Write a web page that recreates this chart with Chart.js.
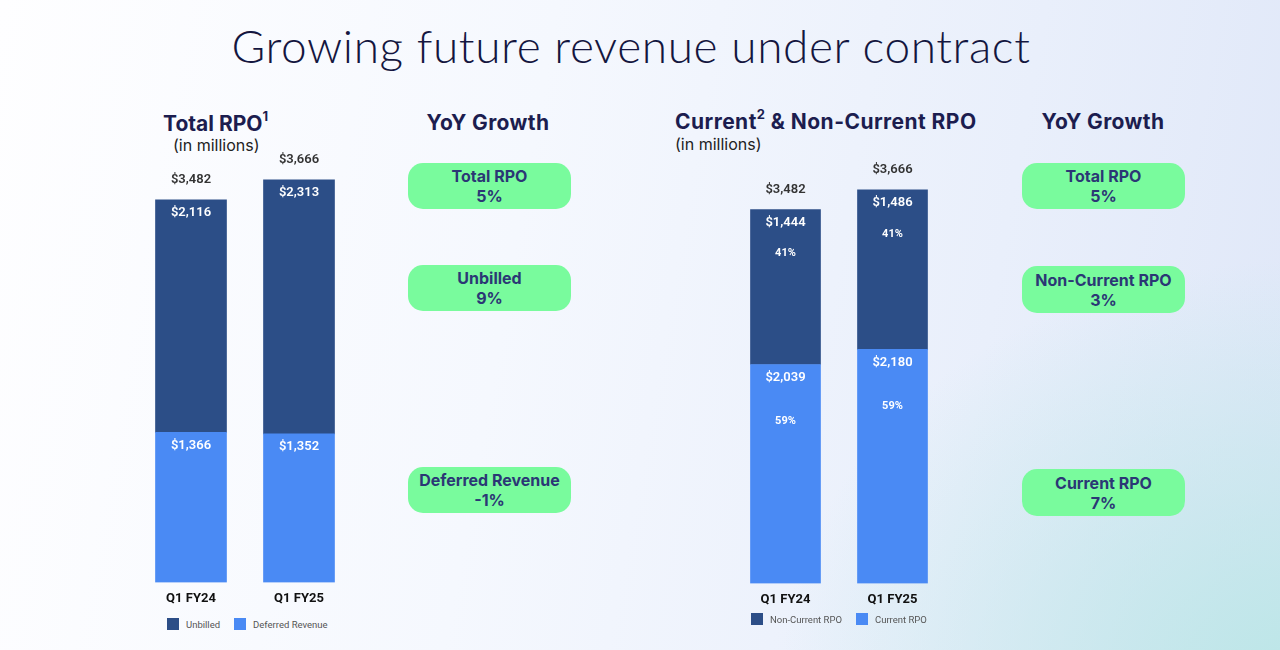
<!DOCTYPE html>
<html>
<head>
<meta charset="utf-8">
<script src="https://cdn.jsdelivr.net/npm/chart.js@4"></script>
<style>
  html, body { margin: 0; padding: 0; }
  body {
    width: 1280px; height: 650px; position: relative; overflow: hidden;
    font-family: Inter, "Noto Sans", sans-serif;
    background:
      radial-gradient(ellipse 520px 420px at 1300px 680px, rgba(185,230,230,0.95), rgba(185,230,230,0) 100%),
      linear-gradient(100deg, #fefeff 0%, #f5f8fe 40%, #e9effb 75%, #dfe7f8 100%);
  }
  .title {
    position: absolute; left: 150px; width: 962px; top: 18px; text-align: center;
    font-family: "Lato", sans-serif; font-weight: 300; font-size: 46px; color: #14163f;
    letter-spacing: 0.6px;
  }
  .head { position: absolute; font-weight: 700; font-size: 21px; color: #1c1d4f; white-space: nowrap; }
  .head sup { font-size: 13px; position: relative; top: -2px; }
  .sub { position: absolute; font-size: 16px; color: #222; white-space: nowrap; }
  .yoy { position: absolute; font-weight: 700; font-size: 21px; letter-spacing: 0.4px; color: #1c1d4f; text-align: center; width: 200px; }
  .pill {
    position: absolute; width: 163px; height: 46px; border-radius: 15px; background: #79fb9d;
    color: #2b3775; font-weight: 700; font-size: 16px; line-height: 20px; text-align: center;
    display: flex; flex-direction: column; justify-content: center;
  }
  canvas { position: absolute; }
  .legend { position: absolute; display: flex; gap: 14px; font-family: Roboto, sans-serif; font-size: 9.5px; color: #555; }
  .legend-item { display: flex; align-items: center; gap: 7px; height: 12px; }
  .legend-box { width: 12px; height: 12px; }
</style>
</head>
<body>
<div class="title">Growing future revenue under contract</div>

<div class="head" style="left:163px; top:110px;">Total RPO<sup>1</sup></div>
<div class="sub" style="left:173px; top:135px;">(in millions)</div>
<div class="yoy" style="left:388px; top:110px;">YoY Growth</div>
<div class="pill" style="left:408px; top:163px;"><div>Total RPO</div><div>5%</div></div>
<div class="pill" style="left:408px; top:265px;"><div>Unbilled</div><div>9%</div></div>
<div class="pill" style="left:408px; top:467px;"><div>Deferred Revenue</div><div>-1%</div></div>

<div class="head" style="left:675px; top:108px; letter-spacing:0.45px;">Current<sup>2</sup> &amp; Non-Current RPO</div>
<div class="sub" style="left:675px; top:134px;">(in millions)</div>
<div class="yoy" style="left:1003px; top:109px;">YoY Growth</div>
<div class="pill" style="left:1022px; top:163px;"><div>Total RPO</div><div>5%</div></div>
<div class="pill" style="left:1022px; top:266px; height:47px;"><div>Non-Current RPO</div><div>3%</div></div>
<div class="pill" style="left:1022px; top:469px; height:47px;"><div>Current RPO</div><div>7%</div></div>

<canvas id="chart-total" style="left:117px; top:130px; width:256px; height:486px;" width="256" height="486"></canvas>
<canvas id="chart-current" style="left:712px; top:130px; width:254px; height:487px;" width="254" height="487"></canvas>
<div class="legend" id="legend-total" style="left:167px; top:618px;"></div>
<div class="legend" id="legend-current" style="left:751px; top:613px;"></div>

<script>
// ── Datos ──
const categories      = ['Q1 FY24', 'Q1 FY25'];
const totalRpo        = [3482, 3666];
const unbilled        = [2116, 2313];
const deferredRevenue = [1366, 1352];
const nonCurrentRpo   = [1444, 1486];
const currentRpo      = [2039, 2180];
const nonCurrentPct   = ['41%', '41%'];
const currentPct      = ['59%', '59%'];

const DARK  = '#2c4e87';
const LIGHT = '#4a8af4';

const fmt = v => '$' + v.toLocaleString('en-US');

// ── Etiquetas sobre las barras ──
const labelsPlugin = {
  id: 'barLabels',
  afterDatasetsDraw(chart, args, opts) {
    const ctx = chart.ctx;
    ctx.save();
    ctx.textAlign = 'center';
    ctx.textBaseline = 'middle';
    chart.data.datasets.forEach((ds, di) => {
      const meta = chart.getDatasetMeta(di);
      meta.data.forEach((bar, i) => {
        ctx.fillStyle = '#ffffff';
        ctx.font = '600 13px Roboto, sans-serif';
        ctx.fillText(fmt(ds.data[i]), bar.x, bar.y + 13);
        if (ds.pct) {
          ctx.font = '700 11px Roboto, sans-serif';
          ctx.fillText(ds.pct[i], bar.x, bar.y + ds.pctOffset);
        }
      });
    });
    // totales
    const top = chart.getDatasetMeta(chart.data.datasets.length - 1);
    top.data.forEach((bar, i) => {
      ctx.fillStyle = '#333333';
      ctx.font = '600 13px Roboto, sans-serif';
      ctx.fillText(fmt(opts.totals[i]), bar.x, bar.y - 20);
    });
    ctx.restore();
  }
};

// ── Leyenda HTML (de arriba hacia abajo en la pila) ──
const htmlLegend = {
  id: 'htmlLegend',
  afterUpdate(chart, args, opts) {
    const cont = document.getElementById(opts.containerID);
    cont.innerHTML = '';
    chart.data.datasets.slice().reverse().forEach(ds => {
      const item = document.createElement('div');
      item.className = 'legend-item';
      item.innerHTML = `<span class="legend-box" style="background:${ds.backgroundColor}"></span><span>${ds.label}</span>`;
      cont.appendChild(item);
    });
  }
};

function crearChart(id, datasets, totals, bar, padTop, legendId) {
  return new Chart(document.getElementById(id).getContext('2d'), {
    type: 'bar',
    data: { labels: categories, datasets },
    plugins: [labelsPlugin, htmlLegend],
    options: {
      responsive: false,
      animation: false,
      devicePixelRatio: 1,
      layout: { padding: { left: 20, right: 20, top: padTop, bottom: 0 } },
      datasets: { bar: { barThickness: bar } },
      plugins: {
        tooltip: { enabled: false },
        legend: { display: false },
        barLabels: { totals },
        htmlLegend: { containerID: legendId },
      },
      scales: {
        x: {
          stacked: true,
          grid: { display: false, drawTicks: false },
          border: { display: false },
          ticks: { color: '#111', padding: 9, font: { family: 'Roboto', weight: '700', size: 13 } },
        },
        y: { stacked: true, display: false, beginAtZero: true, max: 4000 },
      },
    },
  });
}

crearChart('chart-total', [
  { label: 'Deferred Revenue', data: deferredRevenue, backgroundColor: LIGHT },
  { label: 'Unbilled',         data: unbilled,        backgroundColor: DARK },
], totalRpo, 71, 13, 'legend-total');

crearChart('chart-current', [
  { label: 'Current RPO',     data: currentRpo,    backgroundColor: LIGHT, pct: currentPct,    pctOffset: 57 },
  { label: 'Non-Current RPO', data: nonCurrentRpo, backgroundColor: DARK,  pct: nonCurrentPct, pctOffset: 44 },
], totalRpo, 70, 24, 'legend-current');
</script>
</body>
</html>
